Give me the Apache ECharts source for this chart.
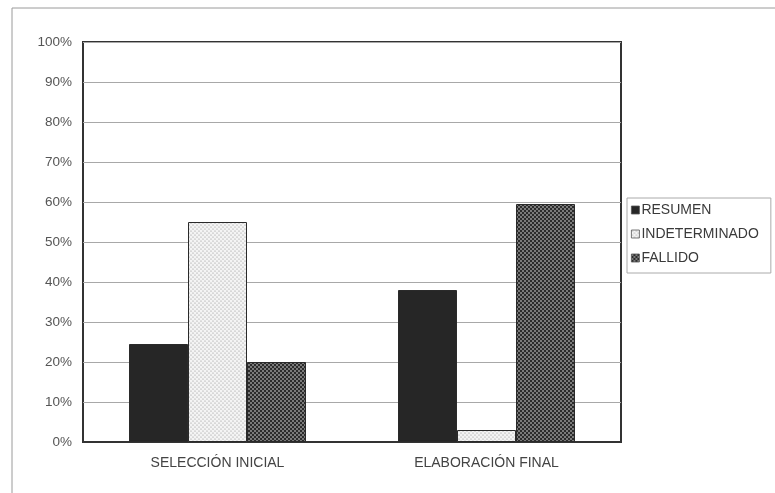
<!DOCTYPE html>
<html>
<head>
<meta charset="utf-8">
<script src="https://cdn.jsdelivr.net/npm/echarts@6/dist/echarts.min.js"></script>
<style>
  html, body { margin: 0; padding: 0; background: #fff; }
  #chart { width: 775px; height: 493px; }
</style>
</head>
<body>
<div id="chart"></div>
<script>
// Categories and series values (percent)
const categories = ['SELECCIÓN INICIAL', 'ELABORACIÓN FINAL'];
const seriesNames = ['RESUMEN', 'INDETERMINADO', 'FALLIDO'];
const resumen = [24.5, 38];
const indeterminado = [55, 3];
const fallido = [20, 59.5];
const yTicks = [0, 10, 20, 30, 40, 50, 60, 70, 80, 90, 100];

// Fill patterns built on small canvases
function makeTile(size, bg, dots, dotColor, r) {
  const c = document.createElement('canvas');
  c.width = size; c.height = size;
  const g = c.getContext('2d');
  g.fillStyle = bg;
  g.fillRect(0, 0, size, size);
  g.fillStyle = dotColor;
  dots.forEach(function (p) {
    g.beginPath();
    g.arc(p[0], p[1], r, 0, Math.PI * 2);
    g.fill();
  });
  return c;
}
const lightDots = makeTile(4, '#f4f4f4', [[1, 1], [3, 3]], '#8a8a8a', 0.6);
const darkDots = makeTile(4, '#2b2b2b', [[1, 1], [3, 3]], '#f2f2f2', 0.75);

const fills = [
  '#262626',
  { image: lightDots, repeat: 'repeat' },
  { image: darkDots, repeat: 'repeat' }
];
const values = [resumen, indeterminado, fallido];

const chart = echarts.init(document.getElementById('chart'), null, { renderer: 'canvas' });
chart.setOption({
  animation: false,
  backgroundColor: '#fff',
  textStyle: { fontFamily: 'Liberation Sans, Arial, sans-serif' },
  graphic: [{
    type: 'rect',
    shape: { x: 12, y: 8, width: 820, height: 520 },
    style: { fill: 'none', stroke: '#9a9a9a', lineWidth: 1 },
    silent: true,
    z: -1
  }],
  grid: {
    left: 83, top: 42, right: 154, bottom: 51,
    show: true, borderColor: '#333', borderWidth: 2, backgroundColor: '#fff'
  },
  legend: {
    orient: 'vertical',
    left: 627, top: 198,
    padding: [4, 12, 7, 4],
    itemWidth: 8, itemHeight: 8, itemGap: 8,
    itemStyle: { borderColor: '#555', borderWidth: 0.8 },
    borderColor: '#aaa', borderWidth: 1,
    icon: 'rect',
    textStyle: { fontSize: 14, color: '#3a3a3a', lineHeight: 16, padding: [0, 0, 0, -3] },
    data: seriesNames
  },
  xAxis: {
    type: 'category',
    data: categories,
    axisTick: { show: false },
    axisLine: { lineStyle: { color: '#333', width: 2 } },
    axisLabel: { color: '#444', fontSize: 14, margin: 14 }
  },
  yAxis: {
    type: 'value',
    min: 0, max: 100, interval: 10,
    axisLine: { show: false },
    axisTick: { show: false },
    splitLine: { lineStyle: { color: '#a8a8a8', width: 1 } },
    axisLabel: {
      color: '#555', fontSize: 13.5, margin: 11,
      formatter: function (v) { return yTicks.indexOf(v) >= 0 ? v + '%' : ''; }
    }
  },
  series: seriesNames.map(function (name, i) {
    return {
      name: name,
      type: 'bar',
      data: values[i],
      barWidth: 59,
      barGap: '0%',
      itemStyle: { color: fills[i], borderColor: '#2a2a2a', borderWidth: 1 }
    };
  })
});
</script>
</body>
</html>
